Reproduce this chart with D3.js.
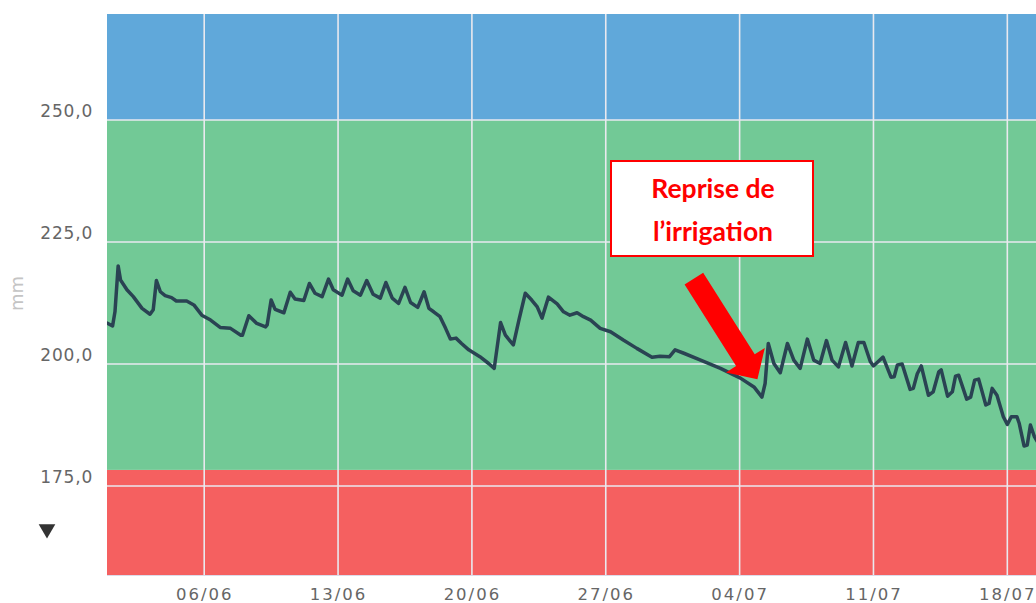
<!DOCTYPE html>
<html>
<head>
<meta charset="utf-8">
<script src="https://cdn.jsdelivr.net/npm/d3@7/dist/d3.min.js"></script>
<style>
  html, body { margin: 0; padding: 0; background: #ffffff; }
  svg { display: block; }
</style>
</head>
<body>
<svg id="chart" width="1036" height="603"></svg>
<script>
// ---------- DATA ----------
const times = [
  "2023-05-31T22:00","2023-06-01T05:00","2023-06-01T08:00","2023-06-01T12:00","2023-06-01T15:00","2023-06-01T23:00",
  "2023-06-02T07:00","2023-06-02T18:00","2023-06-03T04:00","2023-06-03T08:00","2023-06-03T12:00","2023-06-03T17:00",
  "2023-06-03T23:00","2023-06-04T07:00","2023-06-04T13:00","2023-06-05T02:00","2023-06-05T11:00","2023-06-05T21:00",
  "2023-06-06T08:00","2023-06-06T20:00","2023-06-07T09:00","2023-06-07T22:00","2023-06-08T00:00","2023-06-08T08:00",
  "2023-06-08T18:00","2023-06-09T05:00","2023-06-09T07:00","2023-06-09T12:00","2023-06-09T17:00","2023-06-10T04:00",
  "2023-06-10T12:00","2023-06-10T18:00","2023-06-11T05:00","2023-06-11T12:00","2023-06-11T19:00","2023-06-12T04:00",
  "2023-06-12T12:00","2023-06-12T18:00","2023-06-13T05:00","2023-06-13T12:00","2023-06-13T19:00","2023-06-14T04:00",
  "2023-06-14T12:00","2023-06-14T20:00","2023-06-15T05:00","2023-06-15T12:00","2023-06-15T20:00","2023-06-16T04:00",
  "2023-06-16T12:00","2023-06-16T19:00","2023-06-17T04:00","2023-06-17T12:00","2023-06-17T18:00","2023-06-18T00:00",
  "2023-06-18T08:00","2023-06-18T15:00","2023-06-18T21:00","2023-06-19T04:00","2023-06-19T11:00","2023-06-19T20:00",
  "2023-06-20T10:00","2023-06-20T21:00","2023-06-21T04:00","2023-06-21T12:00","2023-06-21T18:00","2023-06-22T04:00",
  "2023-06-22T11:00","2023-06-22T19:00","2023-06-23T03:00","2023-06-23T10:00","2023-06-23T16:00","2023-06-24T00:00",
  "2023-06-24T11:00","2023-06-24T19:00","2023-06-25T03:00","2023-06-25T12:00","2023-06-25T20:00","2023-06-26T05:00",
  "2023-06-26T17:00","2023-06-27T06:00","2023-06-27T22:00","2023-06-28T15:00","2023-06-29T10:00","2023-06-29T20:00",
  "2023-06-30T08:00","2023-06-30T15:00","2023-07-01T02:00","2023-07-01T23:00","2023-07-03T00:00","2023-07-04T01:00",
  "2023-07-04T18:00","2023-07-05T04:00","2023-07-05T08:00","2023-07-05T12:00","2023-07-05T19:00","2023-07-06T03:00",
  "2023-07-06T12:00","2023-07-06T20:00","2023-07-07T04:00","2023-07-07T13:00","2023-07-07T21:00","2023-07-08T05:00",
  "2023-07-08T13:00","2023-07-08T20:00","2023-07-09T04:00","2023-07-09T13:00","2023-07-09T21:00","2023-07-10T05:00",
  "2023-07-10T12:00","2023-07-10T20:00","2023-07-11T00:00","2023-07-11T06:00","2023-07-11T12:00","2023-07-11T22:00",
  "2023-07-12T02:00","2023-07-12T06:00","2023-07-12T12:00","2023-07-12T22:00","2023-07-13T02:00","2023-07-13T07:00",
  "2023-07-13T12:00","2023-07-13T21:00","2023-07-14T03:00","2023-07-14T10:00","2023-07-14T13:00","2023-07-14T21:00",
  "2023-07-15T03:00","2023-07-15T07:00","2023-07-15T11:00","2023-07-15T21:00","2023-07-16T02:00","2023-07-16T07:00",
  "2023-07-16T12:00","2023-07-16T21:00","2023-07-17T01:00","2023-07-17T05:00","2023-07-17T11:00","2023-07-17T19:00",
  "2023-07-18T00:00","2023-07-18T05:00","2023-07-18T12:00","2023-07-18T15:00","2023-07-18T21:00","2023-07-19T01:00",
  "2023-07-19T05:00","2023-07-19T10:00","2023-07-19T14:00"
];
const values = [
  208.4,207.8,210.7,220.1,217.2,215.2,
  213.8,211.4,210.2,211.1,217.1,214.8,
  214.0,213.6,212.9,212.9,212.1,210.0,
  209.0,207.5,207.3,205.9,205.9,209.9,
  208.3,207.6,208.0,213.1,211.2,210.5,
  214.7,213.3,213.0,216.5,214.5,213.8,
  217.4,215.2,214.1,217.4,215.0,214.1,
  217.1,214.3,213.5,216.7,213.5,212.4,
  215.7,212.6,211.6,214.8,211.4,210.7,
  209.7,207.3,205.1,205.3,204.2,202.9,
  201.5,200.1,199.1,208.5,205.9,203.9,
  209.0,214.5,213.1,211.7,209.4,213.7,
  212.3,210.7,210.0,210.5,209.7,209.0,
  207.3,206.6,204.9,203.2,201.4,201.6,
  201.5,202.9,202.2,200.8,199.1,197.1,
  195.3,193.2,196.0,204.2,200.1,198.2,
  204.2,200.8,199.1,205.1,200.8,200.1,
  204.8,200.8,199.4,204.4,199.6,204.4,
  204.4,200.5,199.6,200.5,201.4,197.3,
  197.4,199.8,200.0,194.8,195.0,198.0,
  199.6,193.6,194.3,198.4,198.8,193.4,
  194.3,197.5,197.7,192.8,193.2,196.7,
  196.9,191.6,191.9,195.0,193.6,189.2,
  187.6,189.2,189.2,187.8,183.2,183.4,
  187.5,185.1,184.0
];

// Zones (mm): upper limit of each colour band
const zoneBounds = [178.3, 250];   // red below 178.3, green up to 250, blue above
const zoneNames = ["red", "green", "blue"];

const yTicks = [175, 200, 225, 250];
const yTickLabels = ["175,0", "200,0", "225,0", "250,0"];

const xTicks = ["2023-06-06","2023-06-13","2023-06-20","2023-06-27","2023-07-04","2023-07-11","2023-07-18"];
const xTickLabels = ["06/06","13/06","20/06","27/06","04/07","11/07","18/07"];

const yAxisTitle = "mm";
const annotationLines = ["Reprise de", "l\u2019irrigation"];
const annotationTime = "2023-07-05T04:00";   // irrigation restart (minimum)

// ---------- LAYOUT ----------
const W = 1036, H = 603;
const plot = { left: 107, right: 1036, top: 14, bottom: 575 };
const colors = { red: "#f56060", green: "#72c996", blue: "#60a8da" };

const parseT = d3.timeParse("%Y-%m-%dT%H:%M");
const parseD = d3.timeParse("%Y-%m-%d");
const data = times.map((t, i) => ({ t: parseT(t), v: values[i] }));

const x = d3.scaleTime()
  .domain([parseT("2023-05-31T22:00"), parseT("2023-07-19T12:00")])
  .range([plot.left, plot.right]);
const y = d3.scaleLinear()
  .domain([156.76, 271.72])
  .range([plot.bottom, plot.top]);

const svg = d3.select("#chart");

svg.append("defs").append("clipPath").attr("id", "plotclip")
  .append("rect")
  .attr("x", plot.left).attr("y", plot.top)
  .attr("width", plot.right - plot.left + 10).attr("height", plot.bottom - plot.top);

// ---------- BANDS ----------
const [yMin, yMax] = y.domain();
const bands = [
  { name: zoneNames[0], lo: yMin, hi: zoneBounds[0] },
  { name: zoneNames[1], lo: zoneBounds[0], hi: zoneBounds[1] },
  { name: zoneNames[2], lo: zoneBounds[1], hi: yMax }
];
svg.append("g").selectAll("rect").data(bands).join("rect")
  .attr("x", plot.left)
  .attr("width", plot.right - plot.left + 10)
  .attr("y", d => y(d.hi))
  .attr("height", d => y(d.lo) - y(d.hi))
  .attr("fill", d => colors[d.name]);

// ---------- GRID ----------
const gridColor = "#e9e9ef";
svg.append("g").selectAll("line").data(yTicks).join("line")
  .attr("x1", plot.left).attr("x2", plot.right + 10)
  .attr("y1", d => y(d)).attr("y2", d => y(d))
  .attr("stroke", gridColor).attr("stroke-width", 1.6);

svg.append("g").selectAll("line").data(xTicks).join("line")
  .attr("x1", d => x(parseD(d))).attr("x2", d => x(parseD(d)))
  .attr("y1", plot.top).attr("y2", plot.bottom)
  .attr("stroke", gridColor).attr("stroke-width", 1.6);

// bottom axis line
svg.append("line")
  .attr("x1", plot.left).attr("x2", plot.right + 10)
  .attr("y1", plot.bottom + 0.5).attr("y2", plot.bottom + 0.5)
  .attr("stroke", "#dcdcea").attr("stroke-width", 1);

// ---------- AXES ----------
const xAxis = d3.axisBottom(x)
  .tickValues(xTicks.map(parseD))
  .tickFormat((d, i) => xTickLabels[i])
  .tickSize(0).tickPadding(0);
const gx = svg.append("g").attr("transform", `translate(0,${plot.bottom})`).call(xAxis);
gx.select(".domain").remove();
gx.selectAll("text")
  .attr("y", 24.5).attr("dy", 0)
  .attr("fill", "#666")
  .style("font-family", "'DejaVu Sans', sans-serif")
  .style("font-size", "16.5px")
  .style("letter-spacing", "2px");

const yAxis = d3.axisLeft(y)
  .tickValues(yTicks)
  .tickFormat((d, i) => yTickLabels[i])
  .tickSize(0).tickPadding(0);
const gy = svg.append("g").attr("transform", `translate(${plot.left - 14},0)`).call(yAxis);
gy.select(".domain").remove();
gy.selectAll("text")
  .attr("x", 0).attr("dy", -3.5)
  .attr("fill", "#666")
  .style("font-family", "'DejaVu Sans', sans-serif")
  .style("font-size", "17px")
  .style("letter-spacing", "0.8px");

// axis title
svg.append("text")
  .attr("transform", `translate(23,${(plot.top + plot.bottom) / 2 - 1}) rotate(-90)`)
  .attr("text-anchor", "middle")
  .attr("fill", "#c4c4c4")
  .style("font-family", "'DejaVu Sans', sans-serif")
  .style("font-size", "18px")
  .text(yAxisTitle);

// down-triangle marker below axis labels
svg.append("path")
  .attr("d", d3.symbol(d3.symbolTriangle, 120)())
  .attr("transform", `translate(47,${y(yMin) - 46}) rotate(180)`)
  .attr("fill", "#333");

// ---------- LINE ----------
const line = d3.line().x(d => x(d.t)).y(d => y(d.v)).curve(d3.curveLinear);
svg.append("path")
  .datum(data)
  .attr("clip-path", "url(#plotclip)")
  .attr("d", line)
  .attr("fill", "none")
  .attr("stroke", "#2a4353")
  .attr("stroke-width", 3.5)
  .attr("stroke-linejoin", "round")
  .attr("stroke-linecap", "round");

// ---------- ANNOTATION ----------
const aPt = data.find(d => +d.t === +parseT(annotationTime));
const tipX = x(aPt.t) - 4.5, tipY = y(aPt.v) - 18;
const ux = 0.534, uy = 0.845;          // arrow direction
const px = -uy, py = ux;               // perpendicular
const totalLen = 119, headLen = 22.5, shaftW = 22, headW = 46;
const baseX = tipX - ux * headLen, baseY = tipY - uy * headLen;
const startX = tipX - ux * totalLen, startY = tipY - uy * totalLen;
const arrowPts = [
  [startX + px * shaftW / 2, startY + py * shaftW / 2],
  [baseX + px * shaftW / 2, baseY + py * shaftW / 2],
  [baseX + px * headW / 2, baseY + py * headW / 2],
  [tipX, tipY],
  [baseX - px * headW / 2, baseY - py * headW / 2],
  [baseX - px * shaftW / 2, baseY - py * shaftW / 2],
  [startX - px * shaftW / 2, startY - py * shaftW / 2]
];
svg.append("polygon")
  .attr("points", arrowPts.map(p => p.join(",")).join(" "))
  .attr("fill", "#ff0000");

const box = { x: 611, y: 161, w: 202, h: 95 };
svg.append("rect")
  .attr("x", box.x).attr("y", box.y).attr("width", box.w).attr("height", box.h)
  .attr("fill", "#ffffff").attr("stroke", "#ff0000").attr("stroke-width", 2);
svg.append("g").selectAll("text").data(annotationLines).join("text")
  .attr("x", box.x + box.w / 2 + 1)
  .attr("y", (d, i) => box.y + 37 + i * 43)
  .attr("text-anchor", "middle")
  .attr("fill", "#ff0000")
  .style("font-family", "Lato, 'Open Sans', sans-serif")
  .style("font-weight", "bold")
  .style("font-size", "26.5px")
  .text(d => d);
</script>
</body>
</html>
